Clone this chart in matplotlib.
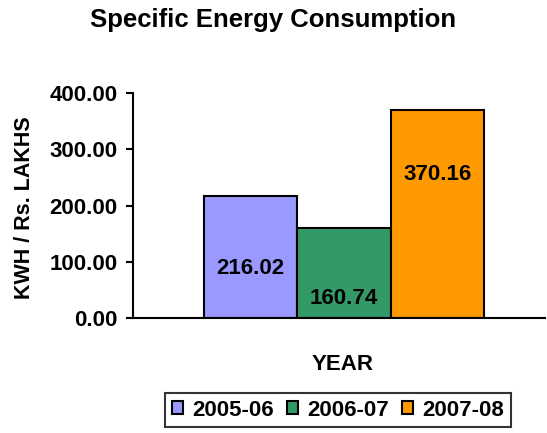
import matplotlib.pyplot as plt

plt.rcParams['font.family'] = ['Liberation Sans', 'DejaVu Sans']
plt.rcParams['font.weight'] = 'bold'

# Data
years = ["2005-06", "2006-07", "2007-08"]
values = [216.02, 160.74, 370.16]
colors = ["#9999FF", "#339966", "#FF9900"]
# where each value label sits, as a fraction of the bar height
label_frac = [0.41, 0.22, 0.69]

fig = plt.figure(figsize=(5.47, 4.33), dpi=100)
ax = fig.add_axes([133 / 547, 1 - 318 / 433, 412 / 547, 225 / 433])

offsets = [-1, 0, 1]
for off, yr, val, col, fr in zip(offsets, years, values, colors, label_frac):
    ax.bar(off, val, width=1.0, color=col, edgecolor="black", linewidth=1.5, label=yr)
    ax.text(off, val * fr, f"{val:.2f}", ha="center", va="center",
            fontsize=16, fontweight="bold")

ax.set_xlim(-2.26, 2.15)
ax.set_ylim(0, 400)
ax.set_yticks([0, 100, 200, 300, 400])
ax.set_yticklabels([f"{v:.2f}" for v in [0, 100, 200, 300, 400]], fontsize=16, fontweight="bold")
ax.set_xticks([])
ax.tick_params(axis="y", length=5, width=1.5, direction="out", pad=6)
for s in ["top", "right"]:
    ax.spines[s].set_visible(False)
ax.spines["left"].set_linewidth(1.5)
ax.spines["bottom"].set_linewidth(1.5)

fig.text(25 / 547, 1 - 208 / 433, "KWH / Rs. LAKHS", ha="center", va="center",
         rotation=90, fontsize=15.5, fontweight="bold")
fig.text(343 / 547, 1 - 365 / 433, "YEAR", ha="center", va="center",
         fontsize=16, fontweight="bold")
fig.text(0.5, 1 - 20 / 433, "Specific Energy Consumption", ha="center", va="center",
         fontsize=18.5, fontweight="bold")

leg = fig.legend(loc="center", bbox_to_anchor=(338 / 547, 1 - 410 / 433), ncol=3,
                 fontsize=16, frameon=True, fancybox=False, edgecolor="black",
                 handlelength=0.5, handleheight=0.5, handletextpad=0.4,
                 columnspacing=0.6, borderpad=0.3)
leg.get_frame().set_linewidth(1.5)

fig.savefig("out.png", dpi=100)
